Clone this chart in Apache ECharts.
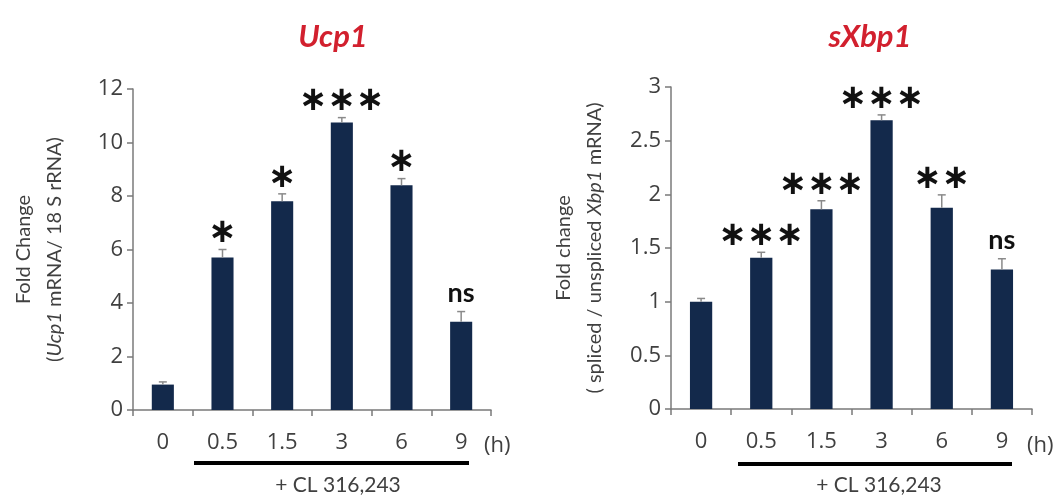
<!DOCTYPE html>
<html>
<head>
<meta charset="utf-8">
<script src="https://cdn.jsdelivr.net/npm/echarts@6/dist/echarts.min.js"></script>
<style>
html,body{margin:0;padding:0;background:#fff;}
#chart{width:1062px;height:498px;}
</style>
</head>
<body>
<div id="chart"></div>
<script>
// ---- data ----
const categories = ['0', '0.5', '1.5', '3', '6', '9'];
const ucpMean = [0.95, 5.7, 7.8, 10.75, 8.4, 3.3];
const ucpErr = [0.1, 0.3, 0.28, 0.18, 0.25, 0.38];
const ucpSig = ['', '*', '*', '***', '*', 'ns'];
const xbpMean = [1.0, 1.41, 1.86, 2.69, 1.875, 1.30];
const xbpErr = [0.03, 0.05, 0.08, 0.05, 0.12, 0.10];
const xbpSig = ['', '***', '***', '***', '**', 'ns'];
const ucpTicks = { min: 0, max: 12, interval: 2 };
const xbpTicks = { min: 0, max: 3, interval: 0.5 };

const FONT = 'Lato, "Noto Sans", sans-serif';
const TICKFONT = '"Open Sans", Lato, sans-serif';
const BAR = '#13294b';
const AXIS = '#7a7a7a';
const TXT = '#404040';

function errData(mean, err) {
  return mean.map((m, i) => [i, m, m + err[i]]);
}

function renderErr(sigArr, params, api) {
  const i = api.value(0);
  const top = api.value(2);
  const mean = api.value(1);
  const sig = sigArr[params.dataIndex];
  const pTop = api.coord([i, top]);
  const pMean = api.coord([i, mean]);
  const children = [
    { type: 'line', shape: { x1: pTop[0], y1: pMean[1], x2: pTop[0], y2: pTop[1] },
      style: { stroke: '#8a8a8a', lineWidth: 1.5 } },
    { type: 'line', shape: { x1: pTop[0] - 4, y1: pTop[1], x2: pTop[0] + 4, y2: pTop[1] },
      style: { stroke: '#8a8a8a', lineWidth: 1.5 } }
  ];
  if (sig === 'ns') {
    children.push({ type: 'text', x: pTop[0], y: pTop[1] - 5,
      style: { text: 'ns', fill: '#111', font: 'bold 27px ' + FONT, align: 'center', verticalAlign: 'bottom' } });
  } else if (sig) {
    children.push({ type: 'text', x: pTop[0], y: pTop[1] - 16,
      style: { text: sig.split('').map(() => '\u2217').join(''), fill: '#111',
        font: 'bold 34px "DejaVu Sans", sans-serif', align: 'center', verticalAlign: 'middle' } });
  }
  return { type: 'group', children };
}

function yAxis(grid, ticks, name, gap) {
  return {
    type: 'value', gridIndex: grid, min: ticks.min, max: ticks.max, interval: ticks.interval,
    splitLine: { show: false },
    axisLine: { show: true, lineStyle: { color: AXIS, width: 1.5 } },
    axisTick: { show: true, length: 6, lineStyle: { color: AXIS, width: 1.5 } },
    axisLabel: { color: TXT, fontSize: 22, fontFamily: TICKFONT, margin: 10 },
    name: name, nameLocation: 'middle', nameRotate: 90, nameGap: gap,
    nameTextStyle: {
      color: TXT, fontFamily: FONT, fontSize: 20, lineHeight: 31,
      rich: {
        n: { color: TXT, fontFamily: FONT, fontSize: 20, lineHeight: 31 },
        i: { color: TXT, fontFamily: FONT, fontSize: 20, fontStyle: 'italic', lineHeight: 31 }
      }
    }
  };
}

function xAxis(grid) {
  return {
    type: 'category', gridIndex: grid, data: categories,
    axisLine: { show: true, lineStyle: { color: AXIS, width: 1.5 } },
    axisTick: { show: true, length: 6, lineStyle: { color: AXIS, width: 1.5 } },
    axisLabel: { color: TXT, fontSize: 22, fontFamily: TICKFONT, margin: 22 }
  };
}

const chart = echarts.init(document.getElementById('chart'), null, { renderer: 'canvas' });
const option = {
  backgroundColor: '#fff',
  animation: false,
  title: [
    { text: 'Ucp1', left: 328, top: 16, textAlign: 'center',
      textStyle: { color: '#d2202e', fontSize: 31, fontStyle: 'italic', fontWeight: 'bold', fontFamily: FONT } },
    { text: 'sXbp1', left: 865, top: 16, textAlign: 'center',
      textStyle: { color: '#d2202e', fontSize: 31, fontStyle: 'italic', fontWeight: 'bold', fontFamily: FONT } }
  ],
  grid: [
    { left: 133, top: 89, width: 358, height: 321 },
    { left: 671, top: 87, width: 361, height: 322 }
  ],
  xAxis: [xAxis(0), xAxis(1)],
  yAxis: [
    yAxis(0, ucpTicks, '{n|Fold Change}\n{n|(}{i|Ucp1}{n| mRNA/ 18 S rRNA)}', 63),
    yAxis(1, xbpTicks, '{n|Fold change}\n{n|( spliced / unspliced }{i|Xbp1}{n| mRNA)}', 61)
  ],
  series: [
    { type: 'bar', xAxisIndex: 0, yAxisIndex: 0, data: ucpMean, barWidth: '37%',
      itemStyle: { color: BAR } },
    { type: 'custom', xAxisIndex: 0, yAxisIndex: 0, data: errData(ucpMean, ucpErr),
      renderItem: function (p, api) { return renderErr(ucpSig, p, api); }, z: 5 },
    { type: 'bar', xAxisIndex: 1, yAxisIndex: 1, data: xbpMean, barWidth: '37%',
      itemStyle: { color: BAR } },
    { type: 'custom', xAxisIndex: 1, yAxisIndex: 1, data: errData(xbpMean, xbpErr),
      renderItem: function (p, api) { return renderErr(xbpSig, p, api); }, z: 5 }
  ],
  graphic: [
    { type: 'text', x: 484, y: 446, style: { text: '(h)', fill: TXT, font: '22px ' + TICKFONT, verticalAlign: 'middle' } },
    { type: 'rect', shape: { x: 194, y: 461, width: 275, height: 4 }, style: { fill: '#000' } },
    { type: 'text', x: 338, y: 485, style: { text: '+ CL 316,243', fill: TXT, font: '21px ' + FONT, align: 'center', verticalAlign: 'middle' } },
    { type: 'text', x: 1027, y: 446, style: { text: '(h)', fill: TXT, font: '22px ' + TICKFONT, verticalAlign: 'middle' } },
    { type: 'rect', shape: { x: 738, y: 462, width: 274, height: 4 }, style: { fill: '#000' } },
    { type: 'text', x: 879, y: 485, style: { text: '+ CL 316,243', fill: TXT, font: '21px ' + FONT, align: 'center', verticalAlign: 'middle' } }
  ]
};
chart.setOption(option);
</script>
</body>
</html>
